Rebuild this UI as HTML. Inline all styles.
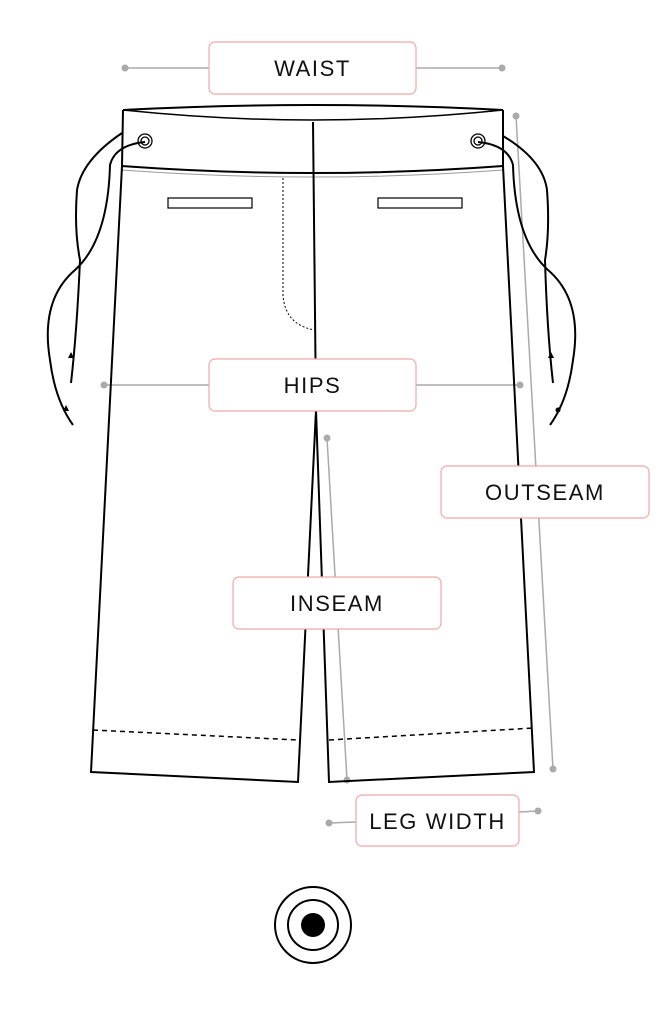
<!DOCTYPE html>
<html><head><style>
body{margin:0;background:#fff;}
svg{display:block}
text{font-family:"Liberation Sans",sans-serif;font-size:22px;fill:#111;letter-spacing:1.6px}
</style></head><body>
<svg width="671" height="1024" viewBox="0 0 671 1024" xmlns="http://www.w3.org/2000/svg">
<g stroke="#aaa" stroke-width="1.5" fill="#aaa">
<line x1="125" y1="68" x2="209" y2="68"/><line x1="416" y1="68" x2="502" y2="68"/>
<circle cx="125" cy="68" r="3.5" stroke="none"/><circle cx="502" cy="68" r="3.5" stroke="none"/>
<line x1="104" y1="385" x2="520" y2="385"/>
<circle cx="104" cy="385" r="3.5" stroke="none"/><circle cx="520" cy="385" r="3.5" stroke="none"/>
<line x1="516" y1="116" x2="553" y2="769"/>
<circle cx="516" cy="116" r="3.5" stroke="none"/><circle cx="553" cy="769" r="3.5" stroke="none"/>
<line x1="327" y1="438" x2="347" y2="780"/>
<circle cx="327" cy="438" r="3.5" stroke="none"/><circle cx="347" cy="780" r="3.5" stroke="none"/>
<line x1="329" y1="823" x2="356" y2="822"/><line x1="519" y1="812" x2="538" y2="811"/>
<circle cx="329" cy="823" r="3.5" stroke="none"/><circle cx="538" cy="811" r="3.5" stroke="none"/>
</g>
<g fill="none" stroke="#000" stroke-width="2">
<path d="M123,110 Q313,100 503,110"/>
<path d="M123,110 Q313,130 503,110" stroke-width="1.5"/>
<line x1="123" y1="110" x2="122" y2="166"/><line x1="503" y1="110" x2="503" y2="166"/>
<path d="M122,166 Q313,180 503,166"/>
<path d="M122,170 Q313,184 503,170" stroke="#999" stroke-width="1"/>
<path d="M122,166 L91,772 L298,782 L316,410 L329,782 L534,772 L503,166"/>
<line x1="313" y1="122" x2="316" y2="410"/>
<path d="M93,730 L298,740" stroke-dasharray="5,4" stroke-width="1.5"/>
<path d="M329,740 L534,728" stroke-dasharray="5,4" stroke-width="1.5"/>
<rect x="168" y="198" width="84" height="10" stroke-width="1.2"/>
<rect x="378" y="198" width="84" height="10" stroke-width="1.2"/>
<path d="M283,178 L283,295 Q285,325 315,330" stroke-dasharray="2,2" stroke-width="1"/>
<circle cx="145" cy="141" r="7" stroke-width="1.3"/><circle cx="145" cy="141" r="4" stroke-width="1.3"/>
<circle cx="478" cy="141" r="7" stroke-width="1.3"/><circle cx="478" cy="141" r="4" stroke-width="1.3"/>
<path d="M122,133 Q82,160 77,190 Q74,230 80,260 Q77,330 71,383"/>
<path d="M145,142 Q115,145 110,165 Q108,240 75,270 Q40,300 50,360 Q55,400 73,425"/>
<path d="M503,136 Q543,160 547,190 Q550,230 545,260 Q547,330 553,383"/>
<path d="M478,142 Q508,145 513,165 Q515,240 548,270 Q583,300 573,360 Q568,400 550,425"/>
</g>
<g fill="#000"><path d="M71,352 l-3,6 h6z"/><path d="M66,405 l-3,6 h6z"/><path d="M551,352 l-3,6 h6z"/><circle cx="558" cy="410" r="2.5"/></g>
<g fill="#fff" stroke="#f0a8a8" stroke-width="1.2">
<rect x="209" y="42" width="207" height="52" rx="6"/>
<rect x="209" y="359" width="207" height="52" rx="6"/>
<rect x="441" y="466" width="208" height="52" rx="6"/>
<rect x="233" y="577" width="208" height="52" rx="6"/>
<rect x="356" y="795" width="163" height="51" rx="6"/>
</g>
<text x="312.5" y="76" text-anchor="middle">WAIST</text>
<text x="312.5" y="393" text-anchor="middle">HIPS</text>
<text x="545" y="500" text-anchor="middle">OUTSEAM</text>
<text x="337" y="611" text-anchor="middle">INSEAM</text>
<text x="437.5" y="829" text-anchor="middle">LEG WIDTH</text>
<circle cx="313" cy="925" r="38" fill="none" stroke="#000" stroke-width="2"/>
<circle cx="313" cy="925" r="25" fill="none" stroke="#000" stroke-width="2"/>
<circle cx="313" cy="925" r="12" fill="#000"/>
</svg>
</body></html>
